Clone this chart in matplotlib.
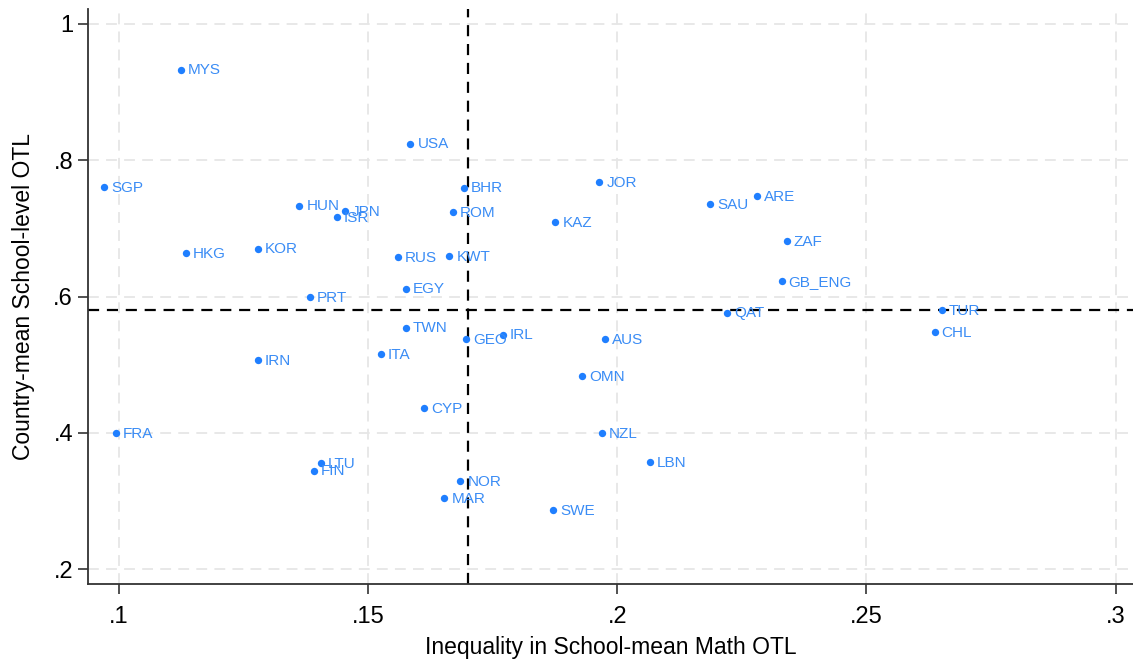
import matplotlib
matplotlib.use("Agg")
import matplotlib.pyplot as plt

plt.rcParams['font.family'] = ['Liberation Sans', 'DejaVu Sans']

countries = ["MYS", "SGP", "HUN", "JPN", "ISR", "HKG", "KOR", "PRT", "USA", "BHR",
             "ROM", "JOR", "SAU", "ARE", "KAZ", "RUS", "KWT", "ZAF", "GB_ENG", "EGY",
             "QAT", "TWN", "GEO", "IRL", "AUS", "OMN", "CYP", "NZL", "LBN", "NOR",
             "MAR", "SWE", "ITA", "TUR", "CHL", "IRN", "FRA", "LTU", "FIN"]
inequality = [0.1124, 0.0970, 0.1362, 0.1453, 0.1437, 0.1134, 0.1279, 0.1383, 0.1585, 0.1692,
              0.1670, 0.1964, 0.2186, 0.2281, 0.1876, 0.1560, 0.1663, 0.2340, 0.2330, 0.1575,
              0.2221, 0.1575, 0.1697, 0.1771, 0.1975, 0.1930, 0.1613, 0.1969, 0.2065, 0.1685,
              0.1653, 0.1872, 0.1526, 0.2651, 0.2637, 0.1279, 0.0993, 0.1406, 0.1391]
mean_otl = [0.933, 0.7606, 0.7336, 0.7258, 0.717, 0.6637, 0.6705, 0.5996, 0.8242, 0.760,
            0.7234, 0.7674, 0.7357, 0.7474, 0.7093, 0.6583, 0.6593, 0.6808, 0.623, 0.6118,
            0.5765, 0.5545, 0.5374, 0.5442, 0.5374, 0.4831, 0.4366, 0.3999, 0.3568, 0.3294,
            0.304, 0.2868, 0.5159, 0.5805, 0.5477, 0.507, 0.3994, 0.3554, 0.3445]
ref_x = 0.1701
ref_y = 0.580

xticks = [0.1, 0.15, 0.2, 0.25, 0.3]
xticklabels = [".1", ".15", ".2", ".25", ".3"]
yticks = [0.2, 0.4, 0.6, 0.8, 1.0]
yticklabels = [".2", ".4", ".6", ".8", "1"]

blue = "#1f7fff"
label_blue = "#3a8cf5"

fig = plt.figure(figsize=(11.33, 6.64), dpi=100)
ax = fig.add_axes([88.3 / 1133, 1 - 584.3 / 664, 1 - 88.3 / 1133, (584.3 - 9) / 664])

ax.set_xlim(0.09384, 0.3035)
ax.set_ylim(0.1777, 1.022)

for t in xticks:
    ax.axvline(t, color="#e6e6e6", lw=1.3, ls=(0, (6, 4)), zorder=0)
for t in yticks:
    ax.axhline(t, color="#e6e6e6", lw=1.3, ls=(0, (6, 4)), zorder=0)

ax.axvline(ref_x, color="black", lw=1.6, ls=(0, (5, 3.5)), zorder=1)
ax.axhline(ref_y, color="black", lw=1.6, ls=(0, (5, 3.5)), zorder=1)

ax.scatter(inequality, mean_otl, s=28, color=blue, zorder=3, linewidths=0)
for c, xv, yv in zip(countries, inequality, mean_otl):
    ax.annotate(c, (xv, yv), xytext=(5, -0.5), textcoords="offset points",
                ha="left", va="center", fontsize=11, color=label_blue, zorder=4)

ax.set_xticks(xticks)
ax.set_xticklabels(xticklabels)
ax.set_yticks(yticks)
ax.set_yticklabels(yticklabels)
ax.tick_params(axis="both", direction="out", length=7, width=1.2, color="#333333",
               labelsize=17, labelcolor="black")
ax.tick_params(axis="x", pad=8.5)
ax.tick_params(axis="y", pad=4)

for s in ["top", "right"]:
    ax.spines[s].set_visible(False)
for s in ["left", "bottom"]:
    ax.spines[s].set_color("#333333")
    ax.spines[s].set_linewidth(1.3)

ax.set_xlabel("Inequality in School-mean Math OTL", fontsize=16.5, labelpad=6)
ax.set_ylabel("Country-mean School-level OTL", fontsize=16.5, labelpad=13)

fig.savefig("out.png", dpi=100)
